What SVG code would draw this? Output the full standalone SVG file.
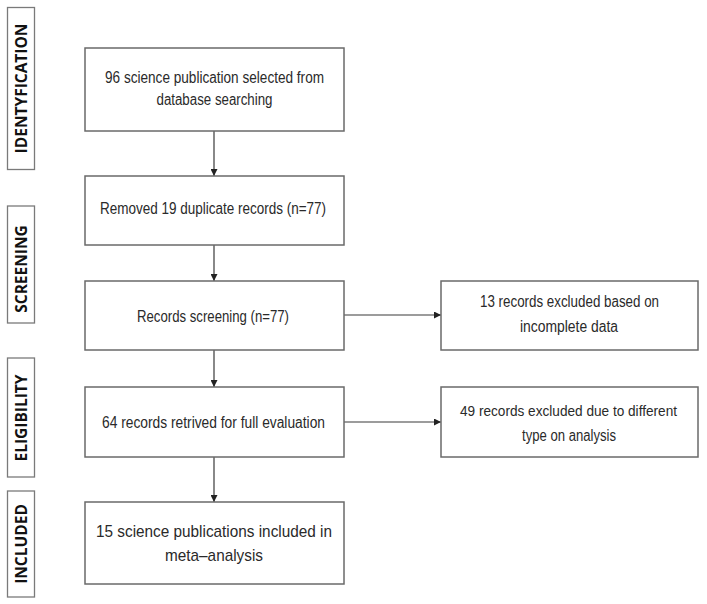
<svg xmlns="http://www.w3.org/2000/svg" width="707" height="604" viewBox="0 0 707 604">
<style>
.box{fill:#fff;stroke:#6a6a6a;stroke-width:1.5}
.stage{fill:#fff;stroke:#7a7a7a;stroke-width:1.3}
.t{font-family:"Liberation Sans",Arial,sans-serif;font-size:16px;fill:#2a2a2a;text-anchor:middle}
.s{font-family:"Open Sans","Liberation Sans",sans-serif;font-weight:bold;font-size:15.5px;fill:#111;text-anchor:middle}
.c{stroke:#3a3a3a;stroke-width:1.2;fill:none;marker-end:url(#ah)}
</style>
<defs>
<marker id="ah" viewBox="0 0 10 10" refX="10" refY="5" markerUnits="userSpaceOnUse" markerWidth="7" markerHeight="7" orient="auto">
<path d="M0,0 L10,5 L0,10 z" fill="#222"/>
</marker>
</defs>
<rect width="707" height="604" fill="#fff"/>
<g id="stage-identification"><rect class="stage" x="7.5" y="7.5" width="27" height="162"/><text class="s" transform="translate(27,88.5) rotate(-90)">IDENTYFICATION</text></g>
<g id="stage-screening"><rect class="stage" x="7.5" y="206" width="27" height="117"/><text class="s" transform="translate(27,269) rotate(-90)">SCREENING</text></g>
<g id="stage-eligibility"><rect class="stage" x="7.5" y="358" width="27" height="119"/><text class="s" transform="translate(27,418) rotate(-90)">ELIGIBILITY</text></g>
<g id="stage-included"><rect class="stage" x="7.5" y="491" width="27" height="106"/><text class="s" transform="translate(27,544) rotate(-90)">INCLUDED</text></g>
<g id="connectors">
<path class="c" d="M214,131 V176"/>
<path class="c" d="M214,245 V281"/>
<path class="c" d="M214,350 V387"/>
<path class="c" d="M214,457 V502"/>
<path class="c" d="M344,315 H441"/>
<path class="c" d="M344,422 H441"/>
</g>
<g id="n1"><rect class="box" x="85" y="48" width="259" height="83"/><text class="t" x="214.5" y="83" textLength="219" lengthAdjust="spacingAndGlyphs">96 science publication selected from</text><text class="t" x="214.5" y="105" textLength="116" lengthAdjust="spacingAndGlyphs">database searching</text></g>
<g id="n2"><rect class="box" x="85" y="176" width="259" height="69"/><text class="t" x="213" y="214" textLength="226" lengthAdjust="spacingAndGlyphs">Removed 19 duplicate records (n=77)</text></g>
<g id="n3"><rect class="box" x="85" y="281" width="259" height="69"/><text class="t" x="213" y="322" textLength="152" lengthAdjust="spacingAndGlyphs">Records screening (n=77)</text></g>
<g id="n4"><rect class="box" x="85" y="387" width="259" height="70"/><text class="t" x="213.5" y="428" textLength="223" lengthAdjust="spacingAndGlyphs">64 records retrived for full evaluation</text></g>
<g id="n5"><rect class="box" x="85" y="502" width="259" height="82"/><text class="t" x="214" y="537" textLength="236" lengthAdjust="spacingAndGlyphs" style="font-size:17px">15 science publications included in</text><text class="t" x="214" y="561" textLength="98" lengthAdjust="spacingAndGlyphs" style="font-size:17px">meta–analysis</text></g>
<g id="n6"><rect class="box" x="441" y="281" width="257" height="69"/><text class="t" x="569.5" y="307" textLength="179" lengthAdjust="spacingAndGlyphs">13 records excluded based on</text><text class="t" x="569" y="332" textLength="98" lengthAdjust="spacingAndGlyphs">incomplete data</text></g>
<g id="n7"><rect class="box" x="441" y="387" width="257" height="70"/><text class="t" x="568.5" y="416" textLength="217" lengthAdjust="spacingAndGlyphs" style="font-size:14.5px">49 records excluded due to different</text><text class="t" x="569" y="441" textLength="94" lengthAdjust="spacingAndGlyphs">type on analysis</text></g>
</svg>
